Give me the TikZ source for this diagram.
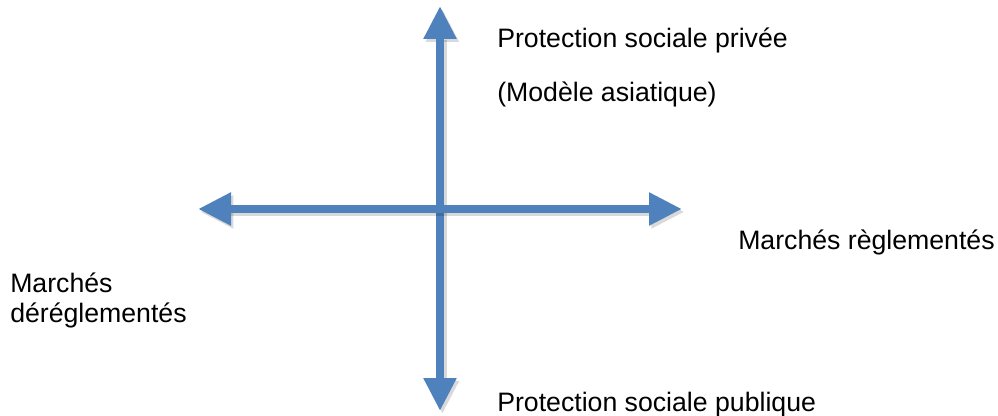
\documentclass[tikz,border=0pt]{standalone}
\usepackage{fontspec}
\setmainfont{Liberation Sans}
\usetikzlibrary{arrows.meta}
\definecolor{axeBleu}{RGB}{79,129,189}

\begin{document}
\begin{tikzpicture}[x=0.75pt, y=-0.75pt]
    \tikzstyle{every node}=[anchor=base west, inner sep=0pt, font=\fontsize{20}{30}\selectfont]
    \tikzstyle{axe}=[draw=axeBleu, line width=6.4pt, {Triangle[length=24.75pt, width=23.25pt]}-{Triangle[length=24.75pt, width=23.25pt]}]
    \tikzstyle{ombre}=[axe, draw=black, opacity=0.15, transform canvas={shift={(1.8pt,-2.2pt)}}]
    \useasboundingbox (0,0) rectangle (998,416);
    \coordinate (haut) at (440,6);
    \coordinate (bas) at (440,411);
    \coordinate (gauche) at (198,209);
    \coordinate (droite) at (682,209);
    \draw[ombre] (haut) -- (bas);
    \draw[axe] (haut) -- (bas);
    \draw[ombre] (gauche) -- (droite);
    \draw[axe] (gauche) -- (droite);
    \node (privee) at (497,48) {Protection sociale privée};
    \node (modele) at (497,102) {(Modèle asiatique)};
    \node (regl) at (738,250) {Marchés règlementés};
    \node (marches) at (10,292) {Marchés};
    \node (dereg) at (10,322) {déréglementés};
    \node (publique) at (497,411) {Protection sociale publique};
\end{tikzpicture}
\end{document}
